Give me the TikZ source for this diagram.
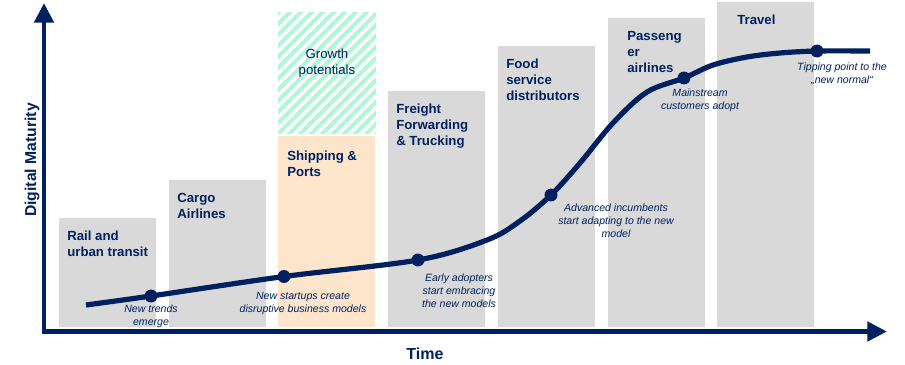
\documentclass[tikz,border=0pt]{standalone}
\usepackage{fontspec}
\setmainfont{Liberation Sans}
\usetikzlibrary{arrows.meta}
\definecolor{navy}{HTML}{002060}
\definecolor{boxgrey}{HTML}{D9D9D9}
\definecolor{boxorange}{HTML}{FDE5CC}
\definecolor{stripegreen}{HTML}{B3F5D8}
\tikzset{
    %Define standard arrow tip
    >={Triangle[width=13.5pt,length=14pt]},
    %Define style for sector labels
    sector/.style={anchor=north west, inner sep=0pt, align=left, text=navy, font=\fontsize{9.4}{11.4}\selectfont\bfseries},
    %Define style for stage notes
    note/.style={anchor=north, inner sep=0pt, align=center, text=navy, font=\fontsize{7.5}{9}\selectfont\itshape},
    %Define style for stage dots
    stage/.style={circle, fill=navy, minimum size=9.2pt, inner sep=0pt},
    axisline/.style={draw=navy, line width=3.5pt},
    scurve/.style={draw=navy, line width=3.7pt, line cap=butt},
}

\begin{document}
\begin{tikzpicture}[x=0.025cm, y=-0.025cm]
    \useasboundingbox (0,0) rectangle (905,364);

    % sector columns
    \foreach \x/\t in {59/218, 169/180, 388/91, 498/46, 608/18, 717/2}
        \fill[boxgrey] (\x,\t) rectangle (\x+97,327);
    \fill[boxorange] (278,136) rectangle (375,327);

    % hatched growth area
    \begin{scope}
        \clip (278,12) rectangle (376,133);
        \foreach \s in {140,151,...,390}
            \draw[stripegreen, line width=2.8pt] (\s,140) -- ++(140,-140);
    \end{scope}

    % axes
    \coordinate (origin) at (44,331.5);
    \coordinate (ytip) at (44,3);
    \coordinate (xtip) at (887,331.5);
    \draw[axisline, <->, line join=miter] (ytip) |- (xtip);

    % adoption curve
    \coordinate (c0) at (86,305);
    \coordinate (c1) at (151,296);
    \coordinate (c2) at (284,276.5);
    \coordinate (c3) at (418,260);
    \coordinate (c4) at (551,195);
    \coordinate (c5) at (684,78);
    \coordinate (c6) at (817,51);
    \coordinate (c7) at (870,51);
    \draw[scurve] plot[smooth, tension=0.55] coordinates {(c0) (c1) (c2) (c3) (487,240) (520,221) (c4) (580,163) (613,123) (647,92) (c5) (713,65) (747,57) (780,53) (c6) (c7)};
    \foreach \i in {1,...,6}
        \node[stage] (dot\i) at (c\i) {};

    % sector labels
    \node[sector] (rail) at (67,231) {Rail and\\urban transit};
    \node[sector] (cargo) at (177,193) {Cargo\\Airlines};
    \node[sector] (shipping) at (287,151) {Shipping \&\\Ports};
    \node[sector] (freight) at (396,104) {Freight\\Forwarding\\\& Trucking};
    \node[sector] (food) at (506,59) {Food\\service\\distributors};
    \node[sector] (passenger) at (627,31) {Passeng\\er\\airlines};
    \node[sector] (travel) at (737,15) {Travel};
    \node[anchor=north, inner sep=0pt, align=center, text=navy, font=\fontsize{9.4}{11.4}\selectfont] (growth) at (327,49) {Growth\\potentials};

    % stage notes
    \node[note] (note1) at (151,305) {New trends\\emerge};
    \node[note] (note2) at (303,292) {New startups create\\disruptive business models};
    \node[note] (note3) at (459,274) {Early adopters\\start embracing\\the new models};
    \node[note] (note4) at (616,204) {Advanced incumbents\\start adapting to the new\\model};
    \node[note] (note5) at (700,89) {Mainstream\\customers adopt};
    \node[note] (note6) at (842,63) {Tipping point to the\\„new normal“};

    % axis titles
    \node[rotate=90, inner sep=0pt, text=navy, font=\fontsize{11.2}{13}\selectfont\bfseries] (ylabel) at (32,160) {Digital Maturity};
    \node[inner sep=0pt, text=navy, font=\fontsize{11.4}{13}\selectfont\bfseries] (xlabel) at (425,354) {Time};
\end{tikzpicture}
\end{document}
